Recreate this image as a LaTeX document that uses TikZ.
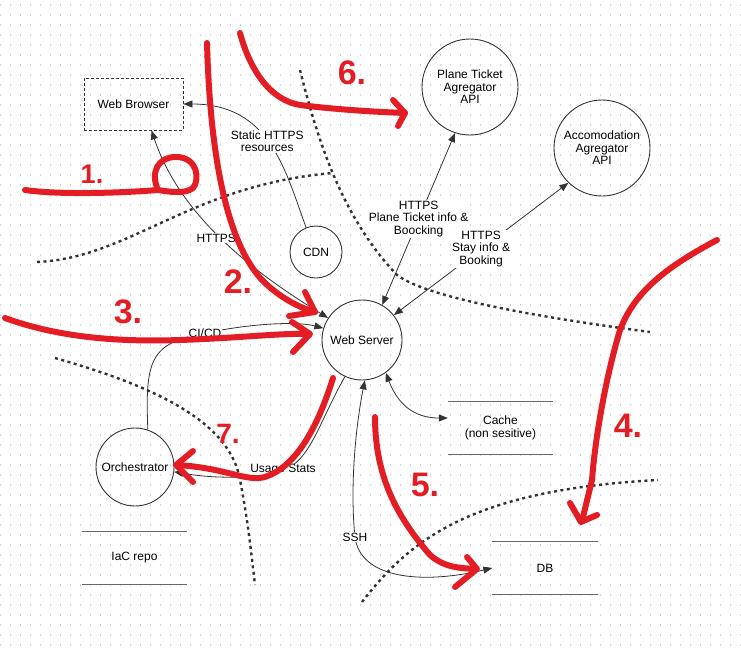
\documentclass[tikz,border=0pt]{standalone}
\usepackage{fontspec}
\setmainfont{Liberation Sans}
\usetikzlibrary{arrows.meta}
\definecolor{marker}{RGB}{228,28,36}
\definecolor{ink}{RGB}{51,51,51}

\begin{document}
\begin{tikzpicture}[x=1pt,y=-1pt,
    font=\fontsize{12}{12.5}\selectfont,
    gridrow/.style={draw=black!17, line width=1.1pt, dash pattern=on 1.1pt off 8.9pt},
    proc/.style={circle, draw=ink, line width=0.9pt, align=center, inner sep=1pt},
    store/.style={minimum width=105pt, minimum height=52pt, align=center, inner sep=0pt},
    storeline/.style={draw=black!60, line width=1.3pt},
    flow/.style={draw=ink, line width=0.8pt, -{Triangle[length=9pt,width=7pt]}},
    both/.style={flow, {Triangle[length=9pt,width=7pt]}-{Triangle[length=9pt,width=7pt]}},
    lbl/.style={fill=white, inner sep=1pt, align=center},
    boundary/.style={draw=ink, line width=2.4pt, dash pattern=on 3pt off 3.5pt},
    pen/.style={draw=marker, line width=6pt, line cap=round, line join=round},
    numtag/.style={text=marker, inner sep=0pt, font=\fontsize{34}{34}\selectfont\bfseries}]
    \useasboundingbox (0,0) rectangle (741,651);
    \foreach \gy in {5,15,...,645} \draw[gridrow] (0,\gy) -- (741,\gy) ; % grid
    % trust boundaries
    \draw[boundary] (37,262) .. controls (130,258) and (190,185) .. (333,173) ; % tb.user
    \draw[boundary] (300,70) .. controls (320,150) and (345,220) .. (397,275) .. controls (430,300) and (560,320) .. (650,332) ; % tb.api
    \draw[boundary] (55,358) .. controls (150,385) and (230,420) .. (240,480) .. controls (248,520) and (252,560) .. (255,585) ; % tb.ops
    \draw[boundary] (362,602) .. controls (410,540) and (470,490) .. (658,480) ; % tb.data
    % elements
    \node[draw=ink, line width=0.9pt, dash pattern=on 3pt off 2pt, minimum width=99pt, minimum height=52pt] (browser) at (133.5,104) {Web Browser}; % Browser
    \node[proc, minimum size=52pt] (cdn) at (316,252) {CDN}; % CDN
    \node[proc, minimum size=96pt] (plane) at (470,87) {Plane Ticket\\Agregator\\API}; % PlaneApi
    \node[proc, minimum size=96pt] (stay) at (602,148) {Accomodation\\Agregator\\API}; % StayApi
    \node[proc, minimum size=80pt] (server) at (362,340) {Web Server}; % Server
    \node[proc, minimum size=78pt] (orch) at (135,467) {Orchestrator}; % Orchestrator
    \node[store] (iac) at (134.5,558) {IaC repo}; % IaC
    \node[store] (cache) at (500.5,428) {Cache\\(non sesitive)}; % Cache
    \node[store] (db) at (545,568) {DB}; % DB
    \foreach \s in {iac,cache,db} {
        \draw[storeline] (\s.north west) -- (\s.north east) ;
        \draw[storeline] (\s.south west) -- (\s.south east) ;
    }
    % flows
    \draw[flow] (cdn.112) .. controls (285,170) and (270,104) .. (browser.east) node[lbl,pos=0.52] {Static HTTPS\\resources}; % static
    \draw[both] ([xshift=18pt]browser.south) .. controls (180,215) and (250,270) .. (server.147) node[lbl,pos=0.5,xshift=-5pt] {HTTPS}; % https
    \draw[both] (server.60) -- (plane.252) node[lbl,pos=0.5] {HTTPS\\Plane Ticket info \&\\Boocking}; % plane
    \draw[both] (server.38) -- (stay.226) node[lbl,pos=0.5] {HTTPS\\Stay info \&\\Booking}; % stay
    \draw[flow] (orch.71) .. controls (145,360) and (150,343) .. (205,333) node[lbl] {CI/CD} .. controls (260,322) and (300,322) .. (server.163) ; % cicd
    \draw[flow] (server.245) .. controls (320,420) and (310,462) .. (283,470) node[lbl] {Usage Stats} .. controls (250,480) and (210,478) .. (orch.-7) ; % stats
    \draw[both] (server.-54) .. controls (400,410) and (420,418) .. ([yshift=10pt]cache.west) ; % cache
    \draw[both] (server.-86) .. controls (355,430) and (350,490) .. (355,537) node[lbl] {SSH} .. controls (360,578) and (420,585) .. (db.west) ; % ssh
    % marker notes
    \draw[pen] (25,190) .. controls (60,195) and (120,193) .. (158,190) .. controls (150,172) and (158,157) .. (176,157) .. controls (198,157) and (200,180) .. (193,188) .. controls (186,194) and (170,192) .. (158,190) ; % note1
    \node[numtag, font=\fontsize{27}{27}\selectfont\bfseries] (n1) at (92,174) {1.};
    \draw[pen] (207,43) .. controls (210,150) and (225,240) .. (262,280) .. controls (280,298) and (300,308) .. (315,312) ; % note2
    \draw[pen] (305,292) -- (315,312) -- (289,316) ;
    \node[numtag] (n2) at (238,282) {2.};
    \draw[pen] (5,318) .. controls (60,338) and (120,342) .. (180,340) .. controls (240,338) and (280,333) .. (308,334) ; % note3
    \draw[pen] (292,322) -- (310,334) -- (293,352) ;
    \node[numtag] (n3) at (128,312) {3.};
    \draw[pen] (717,240) .. controls (670,265) and (635,290) .. (620,330) .. controls (605,380) and (595,440) .. (592,480) -- (582,521) ; % note4
    \draw[pen] (570,503) -- (581,522) -- (597,515) ;
    \node[numtag] (n4) at (628,426) {4.};
    \draw[pen] (375,417) .. controls (375,480) and (400,520) .. (430,555) .. controls (445,568) and (460,568) .. (476,569) ; % note5
    \draw[pen] (467,557) -- (477,569) -- (455,587) ;
    \node[numtag] (n5) at (425,485) {5.};
    \draw[pen] (240,33) .. controls (250,70) and (270,100) .. (300,105) .. controls (340,110) and (380,112) .. (405,113) ; % note6
    \draw[pen] (393,100) -- (405,113) -- (398,126) ;
    \node[numtag] (n6) at (352,73) {6.};
    \draw[pen] (333,378) .. controls (320,420) and (300,462) .. (270,475) .. controls (250,485) and (230,468) .. (177,465) ; % note7
    \draw[pen] (193,451) -- (176,465) -- (193,482) ;
    \node[numtag, font=\fontsize{28}{28}\selectfont\bfseries] (n7) at (228,434) {7.};
\end{tikzpicture}
\end{document}
